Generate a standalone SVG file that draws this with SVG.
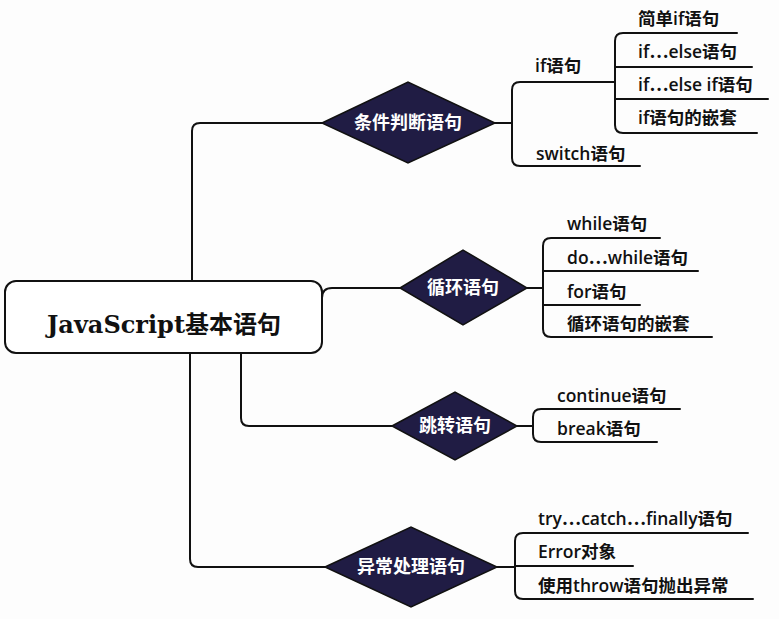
<svg xmlns="http://www.w3.org/2000/svg" width="779" height="619" viewBox="0 0 779 619">
<style>
.bg{fill:#fdfdfd}
.ln{fill:none;stroke:#111;stroke-width:2;stroke-linecap:round;stroke-linejoin:round}
.dia{fill:#201c44;stroke:#111;stroke-width:1.5}
.dt{font-family:"Noto Sans CJK SC","Noto Sans CJK JP",sans-serif;font-size:18px;font-weight:700;fill:#fff;text-anchor:middle}
.lt{font-family:"Open Sans","Noto Sans CJK SC",sans-serif;font-size:17.5px;font-weight:600;fill:#111}
.cjk{font-family:"Noto Sans CJK JP","Noto Sans CJK SC",sans-serif}
.root{fill:#fff;stroke:#111;stroke-width:2}
.rt{font-family:"DejaVu Serif","Noto Sans CJK SC",serif;font-size:24px;font-weight:700;fill:#111;text-anchor:middle}
</style>
<rect class="bg" x="0" y="0" width="779" height="619"/>
<g id="connectors">
<path class="ln" d="M192,281 V131 Q192,123 200,123 H322"/>
<path class="ln" d="M322,298 Q322,288 332,288 H400"/>
<path class="ln" d="M241,353 V418 Q241,426 249,426 H392"/>
<path class="ln" d="M190,353 V559 Q190,567 198,567 H325"/>
<path class="ln" d="M495,123 H512"/>
<path class="ln" d="M615,82 H520 Q512,82 512,90 V158 Q512,166 520,166 H640"/>
<path class="ln" d="M737,33 H623 Q615,33 615,41 V125 Q615,133 623,133 H757"/>
<path class="ln" d="M615,67 H752"/>
<path class="ln" d="M615,99 H768"/>
<path class="ln" d="M527,288 H543"/>
<path class="ln" d="M660,238 H551 Q543,238 543,246 V329 Q543,337 551,337 H712"/>
<path class="ln" d="M543,271 H698"/>
<path class="ln" d="M543,305 H640"/>
<path class="ln" d="M517,426 H533"/>
<path class="ln" d="M680,409 H541 Q533,409 533,417 V434 Q533,442 541,442 H657"/>
<path class="ln" d="M497,567 H515"/>
<path class="ln" d="M748,533 H523 Q515,533 515,541 V591 Q515,599 523,599 H753"/>
<path class="ln" d="M515,566 H633"/>
</g>
<g id="root">
<rect class="root" x="5" y="281" width="317" height="72" rx="11"/>
<text class="rt" x="164" y="333">JavaScript基本语句</text>
</g>
<g id="d1">
<polygon class="dia" points="322,123 408,82 495,123 408,163"/>
<text class="dt" x="408" y="129">条件判断语句</text>
</g>
<g id="d2">
<polygon class="dia" points="400,288 463,250 527,288 463,325"/>
<text class="dt" x="463" y="294">循环语句</text>
</g>
<g id="d3">
<polygon class="dia" points="392,426 455,392 517,426 455,460"/>
<text class="dt" x="455" y="432">跳转语句</text>
</g>
<g id="d4">
<polygon class="dia" points="325,567 411,527 497,567 411,607"/>
<text class="dt" x="411" y="573">异常处理语句</text>
</g>
<g id="n-if"><text class="lt" x="535" y="72">if语句</text></g>
<g id="n-switch"><text class="lt" x="536" y="160">switch语句</text></g>
<g id="n-simpleif"><text class="lt" x="638" y="25">简单if语句</text></g>
<g id="n-ifelse"><text class="lt" x="638" y="58">if<tspan class="cjk">…</tspan>else语句</text></g>
<g id="n-ifelseif"><text class="lt" x="638" y="91">if<tspan class="cjk">…</tspan>else if语句</text></g>
<g id="n-ifnest"><text class="lt" x="638" y="124">if语句的嵌套</text></g>
<g id="n-while"><text class="lt" x="567" y="230">while语句</text></g>
<g id="n-dowhile"><text class="lt" x="567" y="264">do<tspan class="cjk">…</tspan>while语句</text></g>
<g id="n-for"><text class="lt" x="567" y="298">for语句</text></g>
<g id="n-loopnest"><text class="lt" x="567" y="330">循环语句的嵌套</text></g>
<g id="n-continue"><text class="lt" x="557" y="402">continue语句</text></g>
<g id="n-break"><text class="lt" x="557" y="435">break语句</text></g>
<g id="n-try"><text class="lt" x="538" y="525">try<tspan class="cjk">…</tspan>catch<tspan class="cjk">…</tspan>finally语句</text></g>
<g id="n-error"><text class="lt" x="538" y="558">Error对象</text></g>
<g id="n-throw"><text class="lt" x="538" y="592">使用throw语句抛出异常</text></g>
</svg>
